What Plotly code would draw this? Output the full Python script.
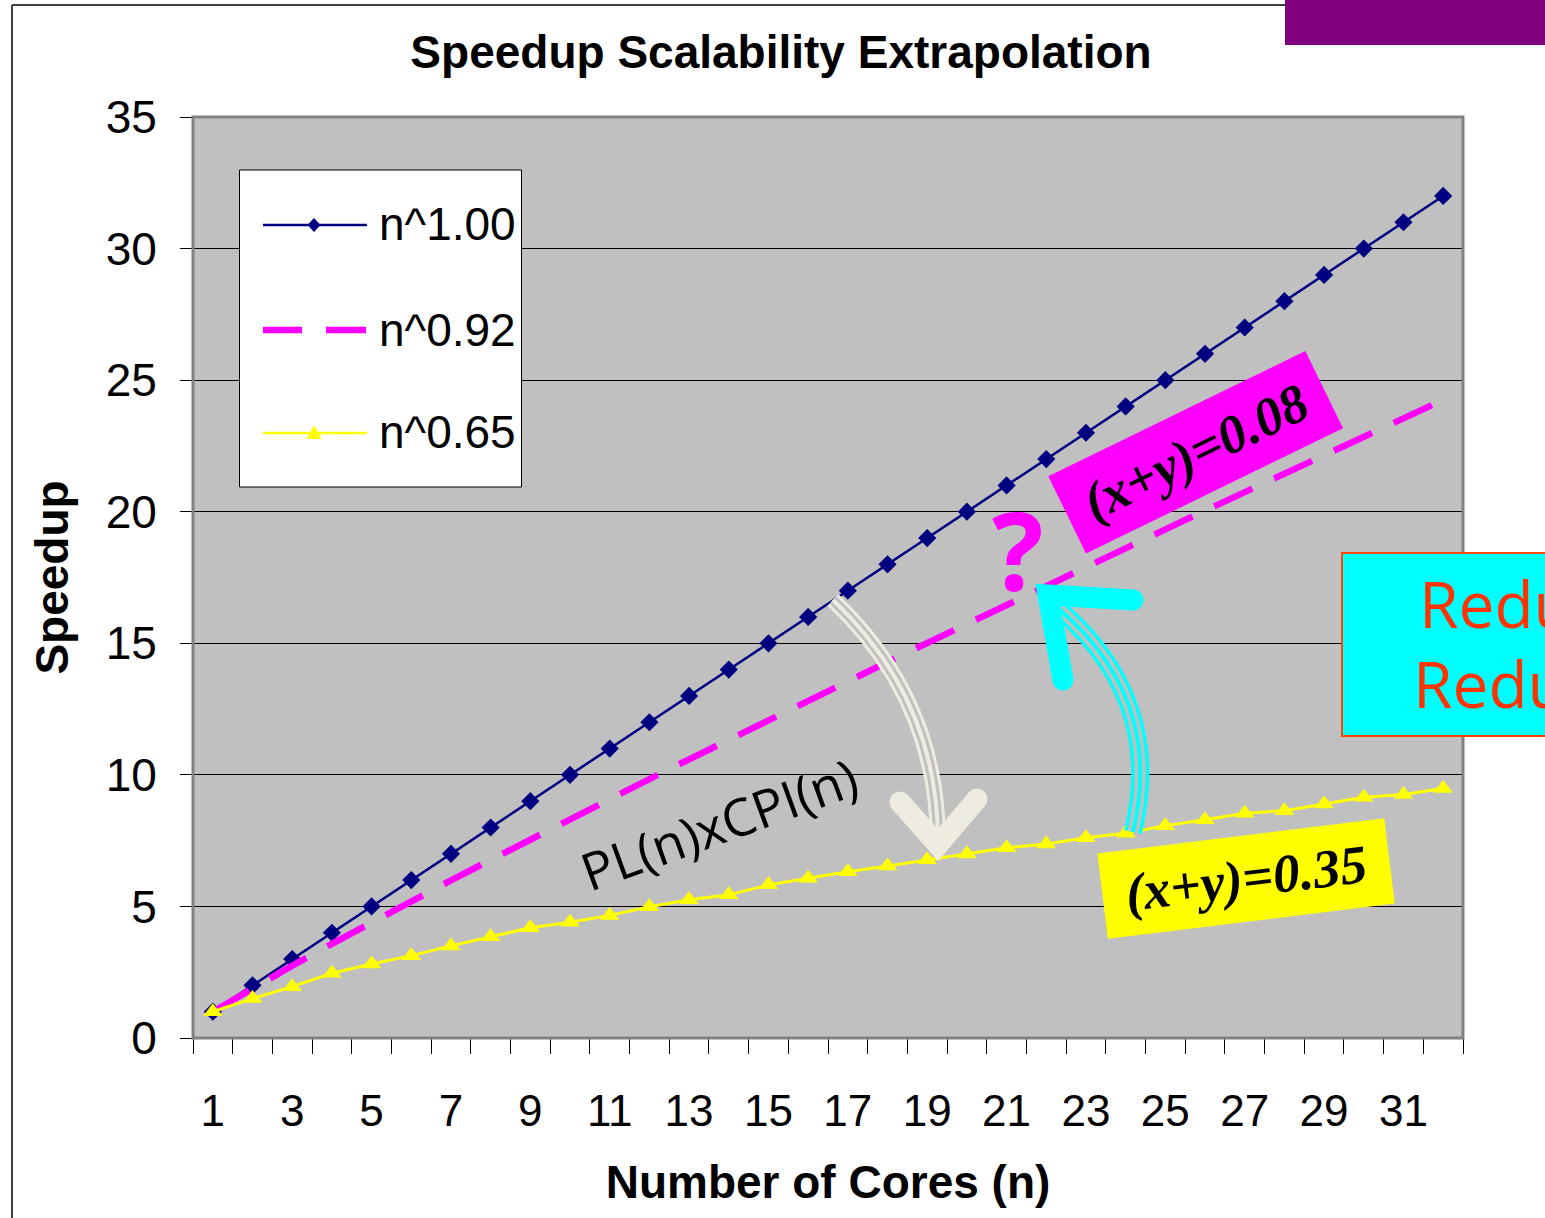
import plotly.graph_objects as go

# ---- data -------------------------------------------------------------
cores = list(range(1, 33))
speedup_n100 = [1, 2, 3, 4, 5, 6, 7, 8, 9, 10, 11, 12, 13, 14, 15, 16,
                17, 18, 19, 20, 21, 22, 23, 24, 25, 26, 27, 28, 29, 30, 31, 32]
speedup_n092 = [1.0, 1.89, 2.75, 3.58, 4.4, 5.2, 5.99, 6.77, 7.55, 8.32, 9.08,
                9.84, 10.59, 11.34, 12.08, 12.82, 13.55, 14.29, 15.01, 15.74,
                16.46, 17.18, 17.9, 18.61, 19.33, 20.04, 20.74, 21.45, 22.15,
                22.85, 23.56, 24.25]
speedup_n065 = [1.0, 1.5, 1.95, 2.46, 2.81, 3.13, 3.5, 3.85, 4.19, 4.4, 4.66,
                4.99, 5.25, 5.44, 5.82, 6.07, 6.32, 6.54, 6.77, 6.99, 7.23,
                7.37, 7.61, 7.78, 8.07, 8.29, 8.54, 8.64, 8.89, 9.15, 9.25, 9.48]
series_names = ["n^1.00", "n^0.92", "n^0.65"]
x_tick_vals = list(range(1, 33, 2))
x_tick_text = [str(v) for v in x_tick_vals]

# ---- page geometry ----------------------------------------------------
W, H = 1545, 1218
ML, MR, MT, MB = 193, 82, 117, 180
PW, PH = W - ML - MR, H - MT - MB

SANS = "Liberation Sans, Arial, sans-serif"
SERIF = "Liberation Serif, Times New Roman, serif"
ROUND = "Open Sans, Noto Sans, sans-serif"

NAVY, MAGENTA, YELLOW = "#000080", "#FF00FF", "#FFFF00"
CYAN, PALE, PLOT_BG = "#00FFFF", "#EEECE1", "#C0C0C0"


def fx(x):
    """page pixel column -> paper x"""
    return (x - ML) / PW


def fy(y):
    """page pixel row -> paper y"""
    return (H - MB - y) / PH


def svg_path(cmds):
    # one command letter per segment so every coordinate gets mapped
    parts = []
    for letter, pts in cmds:
        step = {"M": 1, "L": 1, "Q": 2, "C": 3}[letter]
        for i in range(0, len(pts), step):
            coords = " ".join(f"{fx(x):.5f},{fy(y):.5f}" for x, y in pts[i:i + step])
            parts.append(f"{letter}{coords}")
    return " ".join(parts)


shapes = []


def add_path(cmds, color, width, fill=None, closed=False):
    d = svg_path(cmds) + (" Z" if closed else "")
    shp = dict(type="path", path=d, xref="paper", yref="paper",
               line=dict(color=color, width=width), layer="above")
    if fill:
        shp["fillcolor"] = fill
    shapes.append(shp)


def add_rect(x0, y0, x1, y1, fill, line_color=None, line_width=0):
    shapes.append(dict(type="rect", xref="paper", yref="paper",
                       x0=fx(x0), x1=fx(x1), y0=fy(y1), y1=fy(y0),
                       fillcolor=fill,
                       line=dict(color=line_color or fill, width=line_width),
                       layer="above"))


def add_dot(cx, cy, r, color):
    shapes.append(dict(type="circle", xref="paper", yref="paper",
                       x0=fx(cx - r), x1=fx(cx + r), y0=fy(cy + r), y1=fy(cy - r),
                       fillcolor=color, line=dict(width=0), layer="above"))


def triple_line(cmds, color, widths):
    # compound "three-line" stroke: light / background / light
    outer, middle, inner = widths
    add_path(cmds, color, outer)
    add_path(cmds, PLOT_BG, middle)
    add_path(cmds, color, inner)


def arrow_head(pts, color, width):
    add_path([("M", [pts[0]]), ("L", [pts[1], pts[2]])], color, width)
    add_dot(*pts[0], width / 2, color)
    add_dot(*pts[2], width / 2, color)


# ---- traces -----------------------------------------------------------
fig = go.Figure()
fig.add_trace(go.Scatter(
    x=cores, y=speedup_n100, name=series_names[0], mode="lines+markers",
    line=dict(color=NAVY, width=2.5),
    marker=dict(symbol="diamond", size=14, color=NAVY), showlegend=False))
fig.add_trace(go.Scatter(
    x=cores, y=speedup_n092, name=series_names[1], mode="lines",
    line=dict(color=MAGENTA, width=6.5, dash="42px,24px"), showlegend=False))
fig.add_trace(go.Scatter(
    x=cores, y=speedup_n065, name=series_names[2], mode="lines+markers",
    line=dict(color=YELLOW, width=3),
    marker=dict(symbol="triangle-up", size=17, color=YELLOW), showlegend=False))

# ---- frame & decorations ---------------------------------------------
# outer chart frame (top and left edges)
add_path([("M", [(12, 5)]), ("L", [(1285, 5)])], "#404040", 2)
add_path([("M", [(12, 5)]), ("L", [(12, 1230)])], "#404040", 2)
# plot-area border
shapes.append(dict(type="rect", xref="paper", yref="paper", x0=0, x1=1, y0=0, y1=1,
                   line=dict(color="#808080", width=3), layer="above"))
# purple corner tab
add_rect(1285, -5, 1560, 45, "#800080")

# legend key
add_rect(239.5, 170, 521.5, 487, "white", "black", 1)
add_path([("M", [(263, 225)]), ("L", [(367, 225)])], NAVY, 2.5)
add_path([("M", [(314, 218)]), ("L", [(320.5, 225), (314, 232), (307.5, 225)])],
         NAVY, 0, fill=NAVY, closed=True)
add_path([("M", [(263, 330)]), ("L", [(302, 330)])], MAGENTA, 6.5)
add_path([("M", [(326, 330)]), ("L", [(366, 330)])], MAGENTA, 6.5)
add_path([("M", [(263, 433)]), ("L", [(367, 433)])], YELLOW, 2.5)
add_path([("M", [(314, 425)]), ("L", [(321.5, 439), (306.5, 439)])],
         YELLOW, 0, fill=YELLOW, closed=True)

# grey curved arrow (ideal -> measured)
triple_line([("M", [(833, 600)]), ("Q", [(938, 700), (938, 842)])], PALE, (16, 10, 4))
arrow_head([(900, 802), (938, 845), (977, 799)], PALE, 21)

# cyan curved arrow (measured -> improved)
triple_line([("M", [(1133, 832)]), ("C", [(1150, 760), (1142, 680), (1058, 608)])],
            CYAN, (18, 11, 4))
arrow_head([(1133, 600), (1048, 595), (1063, 680)], CYAN, 21)

# cyan call-out box
add_rect(1342, 553, 1570, 736, CYAN, "#FF4500", 2)

# ---- annotations ------------------------------------------------------
annotations = [
    dict(text="PL(n)xCPI(n)", x=fx(718), y=fy(823), textangle=-20,
         font=dict(family=ROUND, size=52, color="black")),
    dict(text="<b><i>(x+y)=0.08</i></b>", x=fx(1195), y=fy(452), textangle=-26,
         font=dict(family=SERIF, size=54, color="black"),
         bgcolor=MAGENTA, width=285, height=85, borderpad=0),
    dict(text="<b><i>(x+y)=0.35</i></b>", x=fx(1246), y=fy(878), textangle=-7,
         font=dict(family=SERIF, size=54, color="black"),
         bgcolor=YELLOW, width=288, height=85, borderpad=0),
    dict(text="<b>?</b>", x=fx(1018), y=fy(549),
         font=dict(family=ROUND, size=108, color=MAGENTA)),
    dict(text="Redu", x=fx(1417), y=fy(603), xanchor="left",
         font=dict(family=ROUND, size=64, color="#FF3300")),
    dict(text="Redu", x=fx(1411), y=fy(683), xanchor="left",
         font=dict(family=ROUND, size=64, color="#FF3300")),
]
for name, ypx in zip(series_names, (224, 330, 432)):
    annotations.append(dict(text=name, x=fx(377), y=fy(ypx), xanchor="left",
                            font=dict(family=SANS, size=46, color="black")))
for a in annotations:
    a.setdefault("xref", "paper")
    a.setdefault("yref", "paper")
    a.setdefault("xanchor", "center")
    a.setdefault("yanchor", "middle")
    a.setdefault("showarrow", False)

# ---- layout -----------------------------------------------------------
fig.update_layout(
    width=W, height=H,
    margin=dict(l=ML, r=MR, t=MT, b=MB, pad=0),
    paper_bgcolor="white", plot_bgcolor=PLOT_BG,
    font=dict(family=SANS, color="black"),
    title=dict(text="<b>Speedup Scalability Extrapolation</b>",
               x=781 / W, xref="container", xanchor="center",
               y=1 - 52 / H, yref="container", yanchor="middle",
               font=dict(family=SANS, size=46, color="black")),
    shapes=shapes, annotations=annotations, showlegend=False,
)
fig.update_xaxes(
    range=[0.5, 32.5], tickmode="array", tickvals=x_tick_vals, ticktext=x_tick_text,
    ticks="", ticklabelstandoff=34, tickfont=dict(family=SANS, size=44),
    showgrid=False, zeroline=False, showline=True, linecolor="black", linewidth=1,
    minor=dict(tickmode="linear", tick0=0.5, dtick=1, ticks="outside",
               ticklen=15, tickwidth=1, tickcolor="black", showgrid=False),
    title=dict(text="<b>Number of Cores (n)</b>", standoff=32,
               font=dict(family=SANS, size=46)),
)
fig.update_yaxes(
    range=[0, 35], dtick=5, tick0=0, ticks="outside", ticklen=12, tickwidth=1,
    tickcolor="black", ticklabelstandoff=14, tickfont=dict(family=SANS, size=46),
    showgrid=True, gridcolor="black", gridwidth=1, zeroline=False,
    showline=True, linecolor="black", linewidth=1,
    title=dict(text="<b>Speedup</b>", standoff=22, font=dict(family=SANS, size=46)),
)

fig.write_html("out.html")
